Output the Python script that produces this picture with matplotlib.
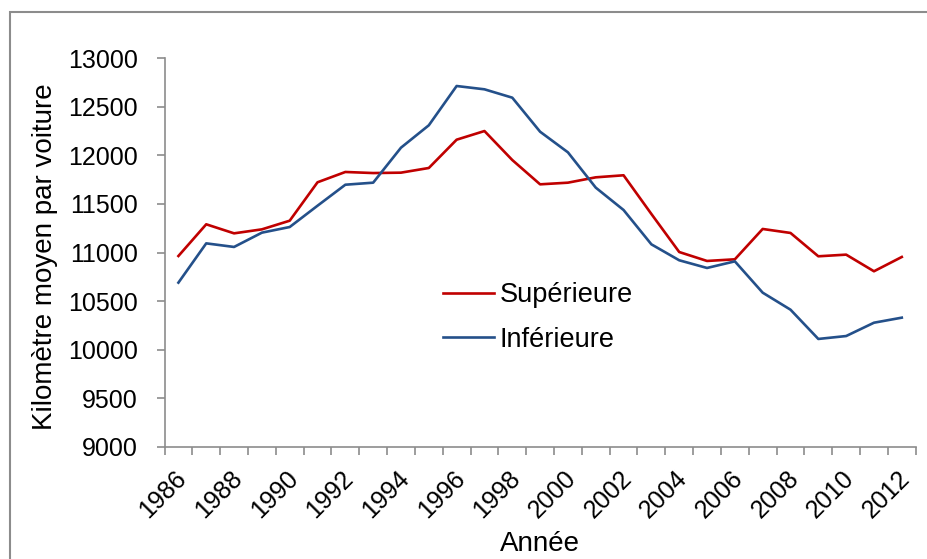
import matplotlib
matplotlib.use("Agg")
import matplotlib.pyplot as plt
from matplotlib.patches import Rectangle
from matplotlib.transforms import ScaledTranslation
import numpy as np

plt.rcParams['font.family'] = ['Liberation Sans', 'DejaVu Sans']

years = list(range(1986, 2013))
superieure = [10964, 11290, 11197, 11238, 11327, 11722, 11828, 11817, 11821, 11869,
              12160, 12249, 11951, 11701, 11718, 11773, 11794, 11396, 11005, 10913,
              10930, 11242, 11201, 10961, 10978, 10807, 10954]
inferieure = [10690, 11094, 11057, 11204, 11262, 11481, 11697, 11718, 12078, 12308,
              12712, 12678, 12592, 12242, 12030, 11667, 11437, 11084, 10920, 10841,
              10909, 10587, 10412, 10111, 10141, 10278, 10330]
labels = ["Supérieure", "Inférieure"]
yticks = list(range(9000, 13001, 500))

W, H = 927, 559
fig = plt.figure(figsize=(W / 100, H / 100), dpi=100)
fig.patch.set_facecolor('white')

# outer frame
fig.patches.append(Rectangle((10 / W, -0.1), 1.2, (1 - 12 / H) + 0.1,
                             transform=fig.transFigure, fill=False,
                             edgecolor='#8c8c8c', linewidth=1.5))

ax = fig.add_axes([164.5 / W, 1 - 447 / H, (915.7 - 164.5) / W, (447 - 58) / H])
x = np.arange(len(years))
ax.plot(x, superieure, color='#C00000', linewidth=1.9, label=labels[0])
ax.plot(x, inferieure, color='#24508A', linewidth=1.9, label=labels[1])

ax.set_xlim(-0.5, len(years) - 0.5)
ax.set_ylim(9000, 13000)
ax.set_yticks(yticks)
ax.set_yticklabels([str(v) for v in yticks], fontsize=18)

ax.set_xticks(np.arange(len(years) + 1) - 0.5)
ax.set_xticklabels([])
ax.set_xticks(x[::2], minor=True)
ax.set_xticklabels([str(y) for y in years[::2]], minor=True, rotation=45,
                   ha='right', va='top', rotation_mode='anchor', fontsize=18)
ax.tick_params(axis='x', which='minor', length=0, pad=14)
ax.tick_params(axis='x', which='major', length=6, color='#8c8c8c', width=1.2)
ax.tick_params(axis='y', length=6, color='#8c8c8c', width=1.2, pad=13)
offset = ScaledTranslation(-4 / 100, 0, fig.dpi_scale_trans)
for lbl in ax.xaxis.get_minorticklabels():
    lbl.set_transform(lbl.get_transform() + offset)

for s in ['top', 'right']:
    ax.spines[s].set_visible(False)
for s in ['left', 'bottom']:
    ax.spines[s].set_color('#8c8c8c')
    ax.spines[s].set_linewidth(1.2)

ax.set_ylabel("Kilomètre moyen par voiture", fontsize=20)
ax.yaxis.set_label_coords((58 - 164.5) / 751.2, 0.49)
ax.set_xlabel("Année", fontsize=20)
ax.xaxis.set_label_coords(0.5, (447 - 531) / 389)

leg = ax.legend(frameon=False, fontsize=19.5, loc='upper left',
                bbox_to_anchor=(443 / W, 1 - 282 / H), bbox_transform=fig.transFigure,
                borderpad=0, borderaxespad=0,
                handlelength=1.9, handletextpad=0.2, labelspacing=0.7)

fig.savefig("out.png", dpi=100)
